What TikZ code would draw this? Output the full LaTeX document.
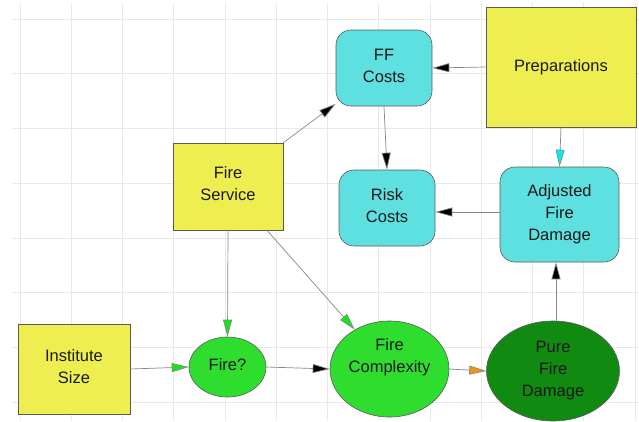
\documentclass[tikz,border=0pt]{standalone}
\usepackage{fontspec}
\setmainfont{Liberation Sans}
\usetikzlibrary{arrows.meta,shapes.geometric}
\definecolor{boxyellow}{RGB}{238,238,80}
\definecolor{boxcyan}{RGB}{94,224,224}
\definecolor{lgreen}{RGB}{46,221,46}
\definecolor{dgreen}{RGB}{16,138,16}
\definecolor{gridgray}{RGB}{232,232,232}
\definecolor{edgegray}{RGB}{135,135,135}
\definecolor{bordergray}{RGB}{90,90,90}
\definecolor{tipcyan}{RGB}{0,240,240}
\definecolor{tipgreen}{RGB}{20,230,20}
\definecolor{tiporange}{RGB}{240,150,20}
\tikzset{
  every node/.style={font=\fontsize{16.5}{22}\selectfont, text=black!90, align=center, inner sep=0pt},
  ybox/.style={rectangle, draw=bordergray, line width=0.6pt, fill=boxyellow},
  cbox/.style={rectangle, rounded corners=15pt, draw=bordergray, line width=0.6pt, fill=boxcyan},
  lell/.style={ellipse, draw=bordergray, line width=0.6pt, fill=lgreen},
  dell/.style={ellipse, draw=bordergray, line width=0.6pt, fill=dgreen},
  link/.style={draw=edgegray, line width=0.7pt},
  tipblack/.style={link, -{Triangle[length=17pt,width=9pt,fill=black]}},
  tipg/.style={link, -{Triangle[length=17pt,width=9pt,fill=tipgreen]}},
  tipc/.style={link, -{Triangle[length=17pt,width=9pt,fill=tipcyan]}},
  tipo/.style={link, -{Triangle[length=17pt,width=9pt,fill=tiporange]}},
}
\begin{document}
\begin{tikzpicture}[x=1pt,y=-1pt]
\useasboundingbox (0,0) rectangle (639,421);
\fill[white] (0,0) rectangle (639,421);
% grid
\foreach \i in {0,...,12} {
  \draw[gridgray, line width=0.6pt] ({20+51.25*\i},3) -- ({20+51.25*\i},421);
}
\foreach \j in {0,...,7} {
  \draw[gridgray, line width=0.6pt] (12,{19+54.7*\j}) -- (639,{19+54.7*\j});
}
% nodes
\node[ybox, minimum width=110pt, minimum height=87pt,
      label={[yshift=3pt]center:Fire\\Service}] (fs) at (228,186.5) {};
\node[ybox, minimum width=112pt, minimum height=90pt,
      label={[yshift=2pt]center:Institute\\Size}] (is) at (74,369) {};
\node[ybox, minimum width=150pt, minimum height=120pt] (prep) at (561,67) {Preparations};
\node[cbox, minimum width=96pt, minimum height=76pt,
      label={[yshift=2pt]center:FF\\Costs}] (ff) at (384,68) {};
\node[cbox, minimum width=96pt, minimum height=76pt,
      label={[yshift=2pt]center:Risk\\Costs}] (rc) at (387,208) {};
\node[cbox, minimum width=119pt, minimum height=95pt] (afd) at (559.5,214.5) {Adjusted\\Fire\\Damage};
\node[lell, minimum width=77pt, minimum height=60pt,
      label={[yshift=2pt]center:Fire?}] (fire) at (227.5,367) {};
\node[lell, minimum width=119pt, minimum height=96pt,
      label={[yshift=12pt]center:Fire\\Complexity}] (fc) at (389.5,369) {};
\node[dell, minimum width=133pt, minimum height=100pt] (pfd) at (553,371) {Pure\\Fire\\Damage};
% helper coordinates
\coordinate (aw) at ([yshift=2.5pt]afd.west);
\coordinate (pn) at ([xshift=3pt]pfd.north);
\coordinate (fss) at ([xshift=39pt]fs.south);
% connectors
\draw[tipblack] (fs.north east) -- (ff);
\draw[tipblack] (ff.south) -- (rc.north);
\draw[tipblack] (prep.west) -- (ff.east);
\draw[tipc] (prep.south) -- (afd.north);
\draw[tipblack] (aw) -- (rc.east |- aw);
\draw[tipblack] (pn) -- (pn |- afd.south);
\draw[tipg] (fs.south) -- (fire.north);
\draw[tipg] (fss) -- (fc);
\draw[tipg] (is.east) -- (fire.west);
\draw[tipblack] (fire.east) -- (fc.west);
\draw[tipo] (fc.east) -- (pfd.west);
\end{tikzpicture}
\end{document}
